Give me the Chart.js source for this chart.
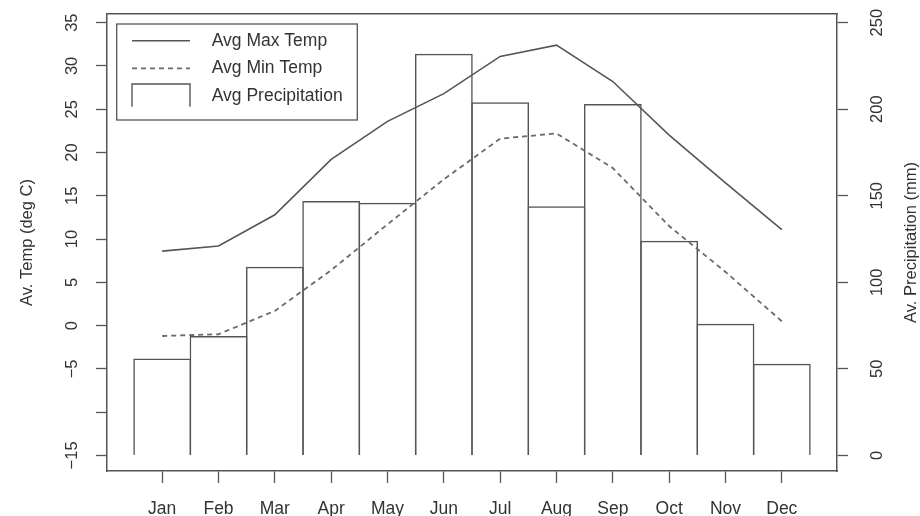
<!DOCTYPE html>
<html>
<head>
<meta charset="utf-8">
<title>Climate chart</title>
<script src="https://cdn.jsdelivr.net/npm/chart.js@4.4.1/dist/chart.umd.min.js"></script>
<style>
  html, body { margin: 0; padding: 0; background: #ffffff; }
  #wrap { position: relative; width: 920px; height: 516px; }
  canvas { display: block; }
</style>
</head>
<body>
<div id="wrap"><canvas id="climate" width="920" height="516"></canvas></div>
<script>
// Monthly climate normals
const months = ['Jan', 'Feb', 'Mar', 'Apr', 'May', 'Jun', 'Jul', 'Aug', 'Sep', 'Oct', 'Nov', 'Dec'];
const maxTemp = [8.6, 9.2, 12.8, 19.2, 23.6, 26.8, 31.1, 32.4, 28.2, 22.0, 16.5, 11.1];
const minTemp = [-1.2, -1.0, 1.7, 6.4, 11.7, 16.9, 21.6, 22.2, 18.2, 11.5, 6.2, 0.5];
const precip = [56, 69, 109, 147, 146, 232, 204, 144, 203, 124, 76, 53];

// Axis ticks (the -10 tick carries no label)
const tempTicks = [-15, -10, -5, 0, 5, 10, 15, 20, 25, 30, 35];
const tempTickLabels = ['\u221215', '', '\u22125', '0', '5', '10', '15', '20', '25', '30', '35'];
const precipTicks = [0, 50, 100, 150, 200, 250];

const seriesNames = ['Avg Max Temp', 'Avg Min Temp', 'Avg Precipitation'];
const tempTitle = 'Av. Temp (deg C)';
const precipTitle = 'Av. Precipitation (mm)';

const INK = '#555555';
const DOT = '#6a6a6a';
const TEXT = '#333333';
const FONT = '"Liberation Sans", Arial, Helvetica, sans-serif';

Chart.defaults.font.family = FONT;
Chart.defaults.color = TEXT;

const X_MIN = -0.98, X_MAX = 11.98;

// Right-hand title reads bottom-to-top, plus the boxed legend inside the plot
const framePlugin = {
  id: 'framePlugin',
  afterDraw(chart) {
    const { ctx, chartArea } = chart;
    const yP = chart.scales.yP;

    ctx.save();
    ctx.translate(yP.right - 9, (chartArea.top + chartArea.bottom) / 2);
    ctx.rotate(-Math.PI / 2);
    ctx.font = '16.5px ' + FONT;
    ctx.fillStyle = TEXT;
    ctx.textAlign = 'center';
    ctx.textBaseline = 'middle';
    ctx.fillText(precipTitle, 0, 0);
    ctx.restore();

    const x0 = chartArea.left + 9.7, y0 = chartArea.top + 10;
    const w = 240.6, h = 96;
    ctx.save();
    ctx.fillStyle = '#ffffff';
    ctx.fillRect(x0, y0, w, h);
    ctx.strokeStyle = INK;
    ctx.lineWidth = 1.3;
    ctx.strokeRect(x0, y0, w, h);

    const ds = chart.data.datasets;
    const sx1 = x0 + 15.3, sx2 = x0 + 73.3;
    const rows = [y0 + 16.7, y0 + 44.3, y0 + 72];
    // solid line sample
    ctx.beginPath();
    ctx.strokeStyle = ds[1].borderColor;
    ctx.lineWidth = ds[1].borderWidth;
    ctx.moveTo(sx1, rows[0]); ctx.lineTo(sx2, rows[0]);
    ctx.stroke();
    // dashed line sample
    ctx.beginPath();
    ctx.strokeStyle = ds[2].borderColor;
    ctx.lineWidth = ds[2].borderWidth;
    ctx.setLineDash(ds[2].borderDash);
    ctx.moveTo(sx1, rows[1]); ctx.lineTo(sx2, rows[1]);
    ctx.stroke();
    ctx.setLineDash([]);
    // open box sample
    ctx.beginPath();
    ctx.strokeStyle = ds[0].borderColor;
    ctx.lineWidth = 1.4;
    ctx.moveTo(sx1, y0 + 82.7); ctx.lineTo(sx1, y0 + 60); ctx.lineTo(sx2, y0 + 60); ctx.lineTo(sx2, y0 + 82.7);
    ctx.stroke();

    ctx.font = '17.5px ' + FONT;
    ctx.fillStyle = TEXT;
    ctx.textAlign = 'left';
    ctx.textBaseline = 'middle';
    ctx.fillText(ds[1].label, x0 + 95, rows[0]);
    ctx.fillText(ds[2].label, x0 + 95, rows[1]);
    ctx.fillText(ds[0].label, x0 + 95, rows[2]);
    ctx.restore();
  }
};

new Chart(document.getElementById('climate'), {
  type: 'bar',
  data: {
    datasets: [
      {
        type: 'bar',
        label: seriesNames[2],
        data: precip.map((v, i) => ({ x: i, y: v })),
        yAxisID: 'yP',
        xAxisID: 'x',
        backgroundColor: 'rgba(255,255,255,0)',
        borderColor: INK,
        borderWidth: 1.5,
        borderSkipped: 'start',
        barPercentage: 1.027,
        categoryPercentage: 1,
        order: 2
      },
      {
        type: 'line',
        label: seriesNames[0],
        data: maxTemp.map((v, i) => ({ x: i, y: v })),
        yAxisID: 'yT',
        xAxisID: 'x',
        borderColor: INK,
        borderWidth: 1.6,
        pointRadius: 0,
        tension: 0,
        fill: false,
        order: 1
      },
      {
        type: 'line',
        label: seriesNames[1],
        data: minTemp.map((v, i) => ({ x: i, y: v })),
        yAxisID: 'yT',
        xAxisID: 'x',
        borderColor: DOT,
        borderWidth: 1.8,
        borderDash: [5, 4],
        pointRadius: 0,
        tension: 0,
        fill: false,
        order: 1
      }
    ]
  },
  options: {
    responsive: false,
    animation: false,
    devicePixelRatio: 1,
    layout: { padding: 0 },
    plugins: {
      legend: { display: false },
      tooltip: { enabled: false },
      title: { display: false }
    },
    scales: {
      x: {
        type: 'linear',
        position: 'bottom',
        min: X_MIN,
        max: X_MAX,
        offset: false,
        afterBuildTicks: (s) => { s.ticks = months.map((m, i) => ({ value: i })); },
        ticks: {
          callback: (v) => months[v] !== undefined ? months[v] : '',
          autoSkip: false,
          minRotation: 0,
          maxRotation: 0,
          padding: 16,
          color: TEXT,
          font: { size: 17.5 }
        },
        grid: { display: true, offset: false, drawOnChartArea: false, drawTicks: true, tickLength: 12, tickColor: INK, tickWidth: 1.3, color: INK },
        border: { display: true, color: INK, width: 1.5 },
        afterFit: (s) => { s.height = 45; s.paddingLeft = 0; s.paddingRight = 0; }
      },
      x2: {
        type: 'linear',
        axis: 'x',
        position: 'top',
        min: X_MIN,
        max: X_MAX,
        offset: false,
        ticks: { display: false },
        grid: { display: true, offset: false, drawOnChartArea: false, drawTicks: false },
        border: { display: true, color: INK, width: 1.5 },
        afterFit: (s) => { s.height = 14; s.paddingLeft = 0; s.paddingRight = 0; }
      },
      yT: {
        type: 'linear',
        position: 'left',
        min: -16.8,
        max: 36,
        afterBuildTicks: (s) => { s.ticks = tempTicks.map(v => ({ value: v })); },
        ticks: {
          callback: (v) => { const k = tempTicks.indexOf(v); return k >= 0 ? tempTickLabels[k] : ''; },
          autoSkip: false,
          minRotation: 90,
          maxRotation: 90,
          crossAlign: 'center',
          padding: 10,
          color: TEXT,
          font: { size: 16.5 }
        },
        title: {
          display: true,
          text: tempTitle,
          color: TEXT,
          font: { size: 16.5 },
          padding: { top: 17.5, bottom: 0 }
        },
        grid: { display: true, drawOnChartArea: false, drawTicks: true, tickLength: 11, tickColor: INK, tickWidth: 1.3, color: INK },
        border: { display: true, color: INK, width: 1.5 },
        afterFit: (s) => { s.width = 107; s.paddingTop = 0; s.paddingBottom = 0; }
      },
      yP: {
        type: 'linear',
        position: 'right',
        min: -9,
        max: 255,
        afterBuildTicks: (s) => { s.ticks = precipTicks.map(v => ({ value: v })); },
        ticks: {
          callback: (v) => String(v),
          autoSkip: false,
          minRotation: 90,
          maxRotation: 90,
          crossAlign: 'center',
          padding: 16,
          color: TEXT,
          font: { size: 16.5 }
        },
        title: { display: false, text: precipTitle },
        grid: { display: true, drawOnChartArea: false, drawTicks: true, tickLength: 11, tickColor: INK, tickWidth: 1.3, color: INK },
        border: { display: true, color: INK, width: 1.5 },
        afterFit: (s) => { s.width = 83; s.paddingTop = 0; s.paddingBottom = 0; }
      }
    }
  },
  plugins: [framePlugin]
});
</script>
</body>
</html>
